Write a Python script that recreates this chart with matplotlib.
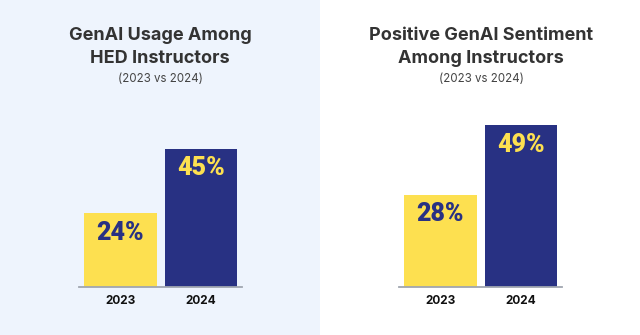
import matplotlib.pyplot as plt
from matplotlib.patches import Rectangle

# data
years = ['2023', '2024']
usage = [24, 45]
sentiment = [28, 49]

titles = ['GenAI Usage Among\nHED Instructors', 'Positive GenAI Sentiment\nAmong Instructors']
subtitle = '(2023 vs 2024)'

yellow = '#FDE050'
navy = '#283183'
W, H = 640, 335

fig = plt.figure(figsize=(6.4, 3.35), dpi=100)
fig.patch.set_facecolor('white')
# light blue background behind left panel
fig.patches.append(Rectangle((0, 0), 320 / W, 1, transform=fig.transFigure,
                             facecolor='#EEF4FD', edgecolor='none', zorder=-1))


def panel(x0, x1, vals, title, ytop, cx):
    ax = fig.add_axes([x0 / W, (H - 287) / H, (x1 - x0) / W, 187 / H])
    ax.set_facecolor('none')
    bars = ax.bar([0, 1], vals, width=0.9, color=[yellow, navy], zorder=2)
    ax.set_xlim(-0.515, 1.51)
    ax.set_ylim(0, ytop)
    for s in ['top', 'right', 'left']:
        ax.spines[s].set_visible(False)
    ax.spines['bottom'].set_color('#A0A6B0')
    ax.spines['bottom'].set_linewidth(1.3)
    ax.set_yticks([])
    ax.set_xticks([0, 1])
    ax.set_xticklabels(years, fontsize=8.5, fontweight='bold', color='#111111', family='Inter')
    ax.tick_params(axis='x', length=0, pad=6)
    tcols = [navy, yellow]
    for b, v, c in zip(bars, vals, tcols):
        ax.annotate(f'{v}%', (b.get_x() + b.get_width() / 2, v), xytext=(0, -14),
                    textcoords='offset points', ha='center', va='center',
                    fontsize=18, fontweight='black', family='Roboto', color=c)
    fig.text(cx / W, 1 - 47 / H, title, ha='center', va='center', fontsize=13,
             fontweight='bold', family='Inter', color='#333333', linespacing=1.45)
    fig.text(cx / W, 1 - 79 / H, subtitle, ha='center', va='center', fontsize=8.3,
             family='Inter', color='#444444')


panel(79, 242, usage, titles[0], 60.8, 160)
panel(399, 562, sentiment, titles[1], 56.7, 481)

fig.savefig('out.png', dpi=100)
